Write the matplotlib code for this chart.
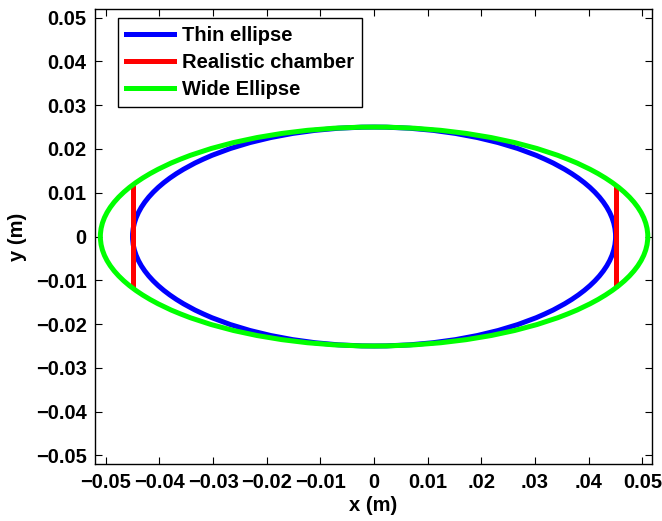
import matplotlib
matplotlib.use("Agg")
import matplotlib.pyplot as plt
from matplotlib.patches import Ellipse
from matplotlib.lines import Line2D

# Data (metres)
thin_semi_x, thin_semi_y = 0.045, 0.025
wide_semi_x, wide_semi_y = 0.051, 0.025
chamber_x = [-0.045, 0.045]
chamber_y_lo, chamber_y_hi = -0.0117, 0.0117
series_names = ["Thin ellipse", "Realistic chamber", "Wide Ellipse"]
series_colors = ["#0000ff", "#ff0000", "#00ff00"]

x_ticks = [-0.05, -0.04, -0.03, -0.02, -0.01, 0, 0.01, 0.02, 0.03, 0.04, 0.05]
x_tick_labels = ["\u22120.05", "\u22120.04", "\u22120.03", "\u22120.02", "\u22120.01",
                 "0", "0.01", ".02", ".03", ".04", "0.05"]
y_ticks = [-0.05, -0.04, -0.03, -0.02, -0.01, 0, 0.01, 0.02, 0.03, 0.04, 0.05]
y_tick_labels = ["\u22120.05", "\u22120.04", "\u22120.03", "\u22120.02", "\u22120.01",
                 "0", "0.01", "0.02", "0.03", "0.04", "0.05"]

plt.rcParams['font.family'] = ['Liberation Sans', 'DejaVu Sans']
plt.rcParams['font.weight'] = 'bold'

fs = 14.5
fig = plt.figure(figsize=(6.62, 5.21), dpi=100)
ax = fig.add_axes([0.1435, 0.109, 0.8415, 0.874])

lw = 3.6
ax.add_patch(Ellipse((0, 0), 2 * thin_semi_x, 2 * thin_semi_y, fill=False,
                     edgecolor=series_colors[0], linewidth=lw, zorder=2))
ax.vlines(chamber_x, chamber_y_lo, chamber_y_hi, color=series_colors[1],
          linewidth=lw, zorder=3)
ax.add_patch(Ellipse((0, 0), 2 * wide_semi_x, 2 * wide_semi_y, fill=False,
                     edgecolor=series_colors[2], linewidth=lw, zorder=4))

ax.set_xlim(-0.052, 0.0518)
ax.set_ylim(-0.052, 0.052)
ax.set_xticks(x_ticks)
ax.set_xticklabels(x_tick_labels)
ax.set_yticks(y_ticks)
ax.set_yticklabels(y_tick_labels)
ax.tick_params(direction='in', length=5, width=0.8, top=True, right=True,
               labelsize=fs, pad=6)
for lab in ax.get_xticklabels() + ax.get_yticklabels():
    lab.set_fontweight('bold')
for s in ax.spines.values():
    s.set_linewidth(1.0)

ax.set_xlabel("x (m)", fontsize=fs, fontweight='bold', labelpad=3)
ax.set_ylabel("y (m)", fontsize=fs, fontweight='bold', labelpad=6)

handles = [Line2D([0], [0], color=c, linewidth=lw) for c in series_colors]
leg = ax.legend(handles, series_names, loc='upper left',
                bbox_to_anchor=(0.041, 0.98), fancybox=False, framealpha=1,
                edgecolor='black', prop={'size': fs, 'weight': 'bold'},
                handlelength=2.4, handletextpad=0.4, borderpad=0.4,
                labelspacing=0.4, borderaxespad=0, handleheight=0.7)
leg.get_frame().set_linewidth(1.0)

fig.savefig("out.png", dpi=100)
